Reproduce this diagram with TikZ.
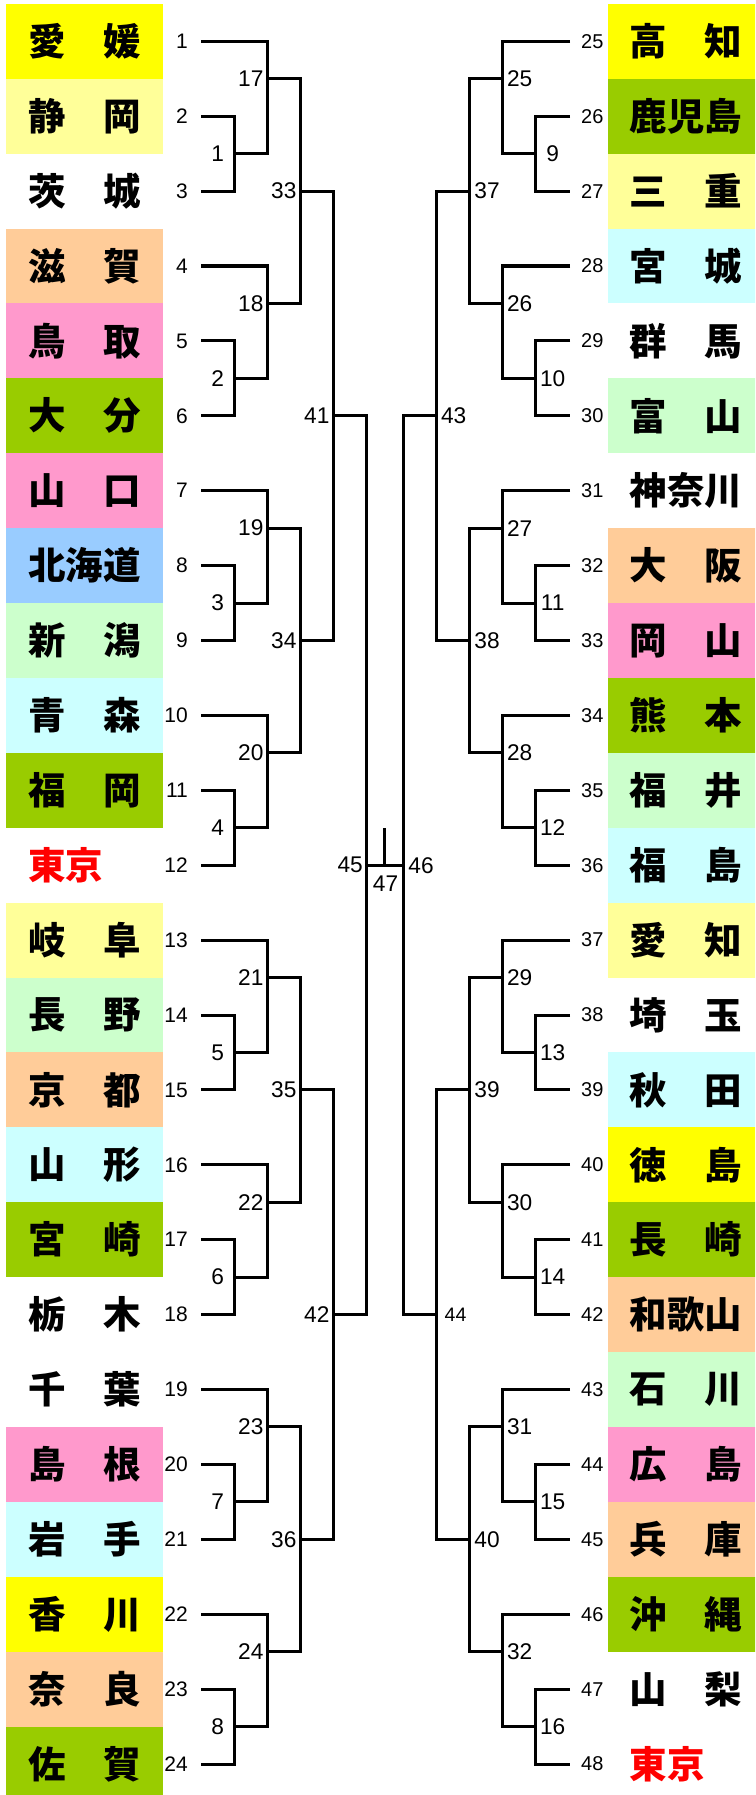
\documentclass[tikz,border=0pt]{standalone}
\usepackage{fontspec}
\setmainfont{Liberation Sans}
\newfontfamily\cjk{Noto Sans CJK JP}
\definecolor{cY}{HTML}{FFFF00}
\definecolor{cLY}{HTML}{FFFF99}
\definecolor{cPe}{HTML}{FFCC99}
\definecolor{cPk}{HTML}{FF99CC}
\definecolor{cOl}{HTML}{99CC00}
\definecolor{cBl}{HTML}{99CCFF}
\definecolor{cLG}{HTML}{CCFFCC}
\definecolor{cLC}{HTML}{CCFFFF}
\definecolor{cW}{HTML}{FFFFFF}
\definecolor{cRed}{HTML}{FF0000}
\begin{document}
\begin{tikzpicture}[x=1pt,y=-1pt,
  br/.style={line width=3pt, line join=miter, line cap=butt},
  pbox/.style={inner sep=0pt, outer sep=0pt, minimum width=157pt, minimum height=74.9pt, font=\cjk\bfseries\fontsize{37.5pt}{40pt}\selectfont},
  leafL/.style={anchor=east, inner sep=0pt, font=\fontsize{21pt}{24pt}\selectfont},
  leafR/.style={anchor=west, inner sep=0pt, font=\fontsize{20pt}{24pt}\selectfont},
  mlab/.style={inner sep=0pt, font=\fontsize{22.7pt}{26pt}\selectfont},
  slab/.style={inner sep=0pt, font=\fontsize{19.5pt}{22pt}\selectfont}]
\clip (0,0) rectangle (755,1795);
\fill[white] (0,0) rectangle (755,1795);
% ---- prefecture boxes, left
\foreach \n/\t/\fc/\tc in {1/愛　媛/cY/black, 2/静　岡/cLY/black, 3/茨　城/cW/black,
  4/滋　賀/cPe/black, 5/鳥　取/cPk/black, 6/大　分/cOl/black, 7/山　口/cPk/black,
  8/北海道/cBl/black, 9/新　潟/cLG/black, 10/青　森/cLC/black, 11/福　岡/cOl/black,
  12/東京　/cW/cRed, 13/岐　阜/cLY/black, 14/長　野/cLG/black, 15/京　都/cPe/black,
  16/山　形/cLC/black, 17/宮　崎/cOl/black, 18/栃　木/cW/black, 19/千　葉/cW/black,
  20/島　根/cPk/black, 21/岩　手/cLC/black, 22/香　川/cY/black, 23/奈　良/cPe/black,
  24/佐　賀/cOl/black}{
  \node[pbox, fill=\fc, text=\tc] (p\n) at (84.5,{41.3+74.9*(\n-1)}) {\t};
  \node[leafL] (nl\n) at (188,{41.3+74.9*(\n-1)}) {\n};
  \coordinate (Ls\n) at (201,{41.3+74.9*(\n-1)});
}
% ---- prefecture boxes, right
\foreach \n/\t/\fc/\tc in {25/高　知/cY/black, 26/鹿児島/cOl/black, 27/三　重/cLY/black,
  28/宮　城/cLC/black, 29/群　馬/cW/black, 30/富　山/cLG/black, 31/神奈川/cW/black,
  32/大　阪/cPe/black, 33/岡　山/cPk/black, 34/熊　本/cOl/black, 35/福　井/cLG/black,
  36/福　島/cLC/black, 37/愛　知/cLY/black, 38/埼　玉/cW/black, 39/秋　田/cLC/black,
  40/徳　島/cY/black, 41/長　崎/cOl/black, 42/和歌山/cPe/black, 43/石　川/cLG/black,
  44/広　島/cPk/black, 45/兵　庫/cPe/black, 46/沖　縄/cOl/black, 47/山　梨/cW/black,
  48/東京　/cW/cRed}{
  \node[pbox, fill=\fc, text=\tc] (p\n) at (686.2,{41.3+74.9*(\n-25)}) {\t};
  \node[leafR] (nr\n) at (581,{41.3+74.9*(\n-25)}) {\n};
  \coordinate (Rs\n) at (570,{41.3+74.9*(\n-25)});
}
% ---- left bracket, rounds 1 and 2
\foreach \k in {0,...,7}{
  \pgfmathtruncatemacro\na{3*\k+1}
  \pgfmathtruncatemacro\nb{3*\k+2}
  \pgfmathtruncatemacro\nc{3*\k+3}
  \pgfmathtruncatemacro\mr{\k+1}
  \pgfmathtruncatemacro\ms{\k+17}
  \pgfmathsetmacro\ya{41.3+74.9*(\na-1)}
  \coordinate (Lm\mr) at (234.3,{\ya+112.35});
  \coordinate (Lj\mr) at (267.3,{\ya+112.35});
  \coordinate (Lm\ms) at (267.3,{\ya+37.45});
  \draw[br] (Ls\na) -| (Lj\mr) -- (Lm\mr);
  \draw[br] (Ls\nb) -| (Lm\mr) |- (Ls\nc);
  \node[mlab] (tL\mr) at ([xshift=-16.5pt]Lm\mr) {\mr};
  \node[mlab] (tL\ms) at ([xshift=-16.5pt]Lm\ms) {\ms};
}
\foreach \j in {0,...,3}{
  \pgfmathtruncatemacro\mt{33+\j}
  \pgfmathtruncatemacro\su{17+2*\j}
  \pgfmathtruncatemacro\sv{18+2*\j}
  \coordinate (Lm\mt) at (300.3,{41.3+74.9*(6*\j+2)});
  \draw[br] (Lm\su) -| (Lm\mt) |- (Lm\sv);
  \node[mlab] (tL\mt) at ([xshift=-16.5pt]Lm\mt) {\mt};
}
\foreach \i in {0,1}{
  \pgfmathtruncatemacro\mq{41+\i}
  \pgfmathtruncatemacro\tu{33+2*\i}
  \pgfmathtruncatemacro\tv{34+2*\i}
  \coordinate (Lm\mq) at (333.3,{41.3+74.9*(12*\i+5)});
  \draw[br] (Lm\tu) -| (Lm\mq) |- (Lm\tv);
  \node[mlab] (tL\mq) at ([xshift=-16.5pt]Lm\mq) {\mq};
}
\coordinate (Lm45) at (366.7,{41.3+74.9*11});
\draw[br] (Lm41) -| (Lm45) |- (Lm42);
\node[mlab] (tL45) at ([xshift=-16.5pt]Lm45) {45};
% ---- right bracket
\foreach \k in {0,...,7}{
  \pgfmathtruncatemacro\na{3*\k+25}
  \pgfmathtruncatemacro\nb{3*\k+26}
  \pgfmathtruncatemacro\nc{3*\k+27}
  \pgfmathtruncatemacro\mr{\k+9}
  \pgfmathtruncatemacro\ms{\k+25}
  \pgfmathsetmacro\ya{41.3+74.9*(3*\k)}
  \coordinate (Rm\mr) at (535,{\ya+112.35});
  \coordinate (Rj\mr) at (502,{\ya+112.35});
  \coordinate (Rm\ms) at (502,{\ya+37.45});
  \draw[br] (Rs\na) -| (Rj\mr) -- (Rm\mr);
  \draw[br] (Rs\nb) -| (Rm\mr) |- (Rs\nc);
  \node[mlab] (tR\mr) at ([xshift=17.7pt]Rm\mr) {\mr};
  \node[mlab] (tR\ms) at ([xshift=17.7pt]Rm\ms) {\ms};
}
\foreach \j in {0,...,3}{
  \pgfmathtruncatemacro\mt{37+\j}
  \pgfmathtruncatemacro\su{25+2*\j}
  \pgfmathtruncatemacro\sv{26+2*\j}
  \coordinate (Rm\mt) at (469.3,{41.3+74.9*(6*\j+2)});
  \draw[br] (Rm\su) -| (Rm\mt) |- (Rm\sv);
  \node[mlab] (tR\mt) at ([xshift=17.7pt]Rm\mt) {\mt};
}
\coordinate (Rm43) at (436,{41.3+74.9*5});
\coordinate (Rm44) at (436,{41.3+74.9*17});
\draw[br] (Rm37) -| (Rm43) |- (Rm38);
\draw[br] (Rm39) -| (Rm44) |- (Rm40);
\node[mlab] (tR43) at ([xshift=17.7pt]Rm43) {43};
\node[slab] (tR44) at ([xshift=19.5pt]Rm44) {44};
\coordinate (Rm46) at (403.3,{41.3+74.9*11});
\draw[br] (Rm43) -| (Rm46) |- (Rm44);
\node[mlab] (tR46) at ([xshift=17.7pt]Rm46) {46};
% ---- final
\coordinate (F47) at (384.3,{41.3+74.9*11});
\coordinate (T47) at (384.3,{41.3+74.9*11-37.5});
\draw[br] (Lm45) -- (Rm46);
\draw[br] (F47) -- (T47);
\node[mlab] (tF47) at (385.5,{41.3+74.9*11+18}) {47};
\end{tikzpicture}
\end{document}
